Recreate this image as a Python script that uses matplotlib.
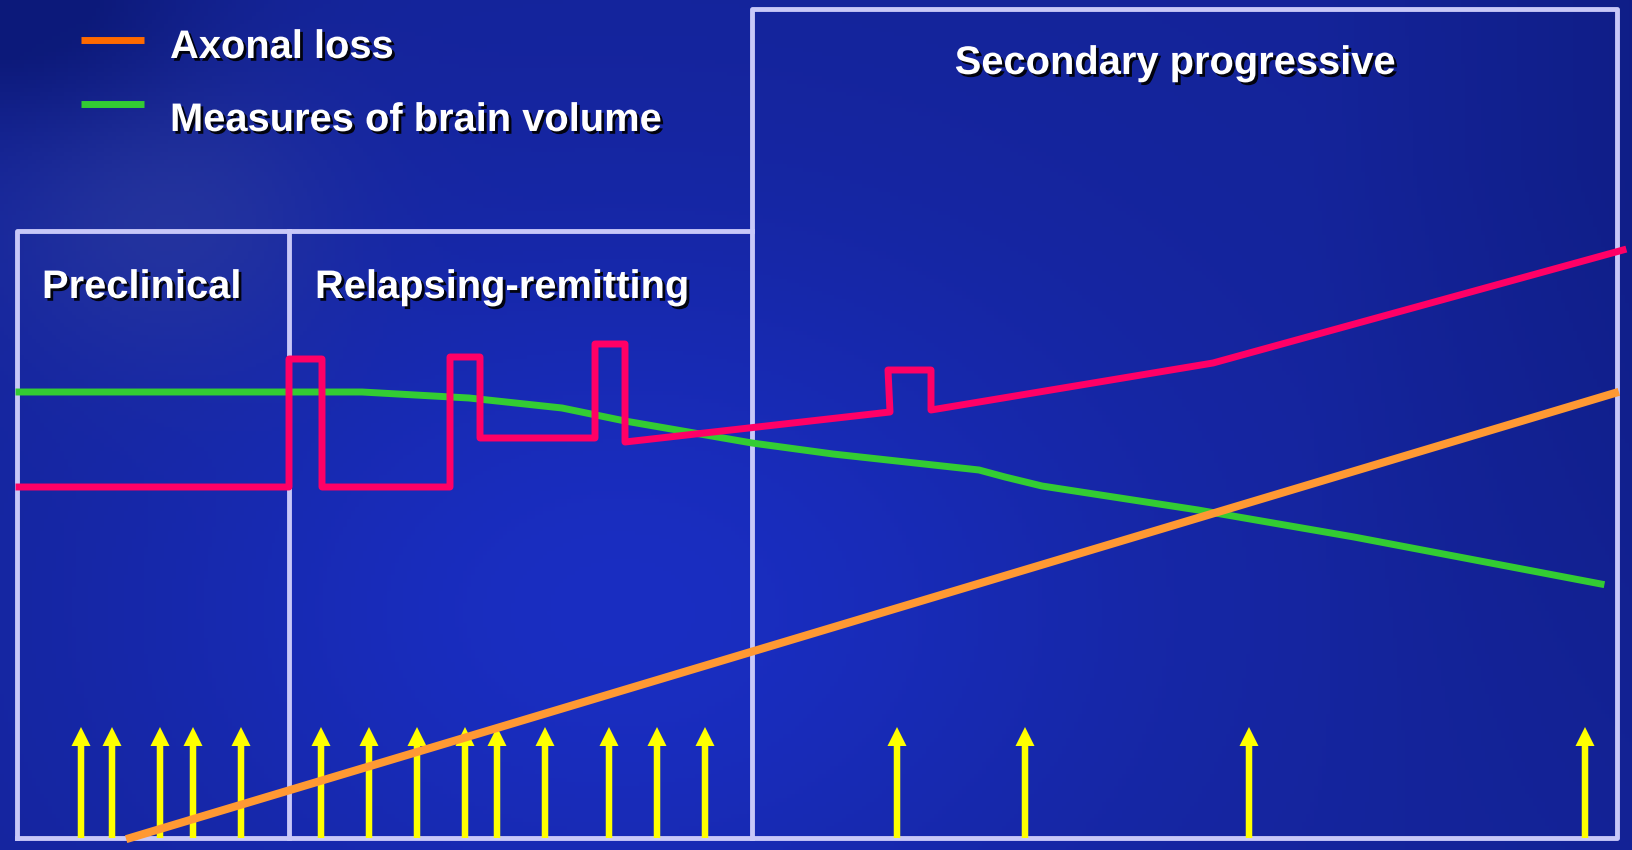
import numpy as np
import matplotlib.pyplot as plt
import matplotlib.patheffects as pe

W, H = 1633, 850

# stage frame (pixel layout of the timeline)
stage_names = ["Preclinical", "Relapsing-remitting", "Secondary progressive"]
frame_left, frame_div, frame_mid, frame_right = 17, 289, 752, 1617
frame_top_low, frame_top_high, frame_bottom = 231, 9, 838

# brain volume curve
green_x = [19, 362, 469, 562, 625, 752, 833, 979, 1005, 1042, 1198, 1354, 1601]
green_y = [392, 392, 398, 408, 421, 443, 454, 470, 477, 486, 510, 537, 584]

# inflammation / relapse curve
pink_x = [19, 289, 289, 322, 322, 450, 450, 480, 480, 595, 595, 625, 625,
          890, 888, 931, 931, 1213, 1623]
pink_y = [487, 487, 359, 359, 487, 487, 357, 357, 438, 438, 344, 344, 442,
          412, 370, 370, 410, 363, 250]

# axonal loss
orange_x = [130, 1615]
orange_y = [838, 393]

# relapse events
arrow_x = [81, 112, 160, 193, 241, 321, 369, 417, 465, 497, 545, 609, 657,
           705, 897, 1025, 1249, 1585]
arrow_tip = 727

legend_labels = ["Axonal loss", "Measures of brain volume"]
legend_colors = ["#FF6A00", "#33CC33"]

fig = plt.figure(figsize=(W / 100, H / 100), dpi=100)
ax = fig.add_axes([0, 0, 1, 1])
ax.set_xlim(0, W)
ax.set_ylim(H, 0)
ax.axis("off")

# slide background: navy corners, hazy top-left, brighter blue middle
yy, xx = np.mgrid[0:H:4, 0:W:4]
u, v = xx / W, yy / H
glow = np.exp(-((u - 0.38) ** 2 / 0.10 + (v - 0.72) ** 2 / 0.20))
haze = np.exp(-((u - 0.10) ** 2 / 0.010 + (v - 0.25) ** 2 / 0.03))
dark = (np.exp(-((u - 0.0) ** 2 / 0.015 + (v - 0.0) ** 2 / 0.02))
        + 0.45 * np.clip((u - 0.8) / 0.2, 0, 1) * np.clip(1.2 - v, 0, 1))
base = np.array([0.08, 0.14, 0.60])
bright = np.array([0.10, 0.18, 0.76])
navy = np.array([0.04, 0.09, 0.45])
grey = np.array([0.18, 0.24, 0.62])
img = base + (bright - base) * glow[..., None]
img = img + (grey - img) * (0.6 * haze)[..., None]
img = img + (navy - img) * np.clip(dark, 0, 0.8)[..., None]
ax.imshow(np.clip(img, 0, 1), extent=[0, W, H, 0], aspect="auto", zorder=0)

fc = "#C8C8F8"
flw = 3.5
ax.plot([frame_left, frame_left, frame_mid], [frame_bottom, frame_top_low, frame_top_low],
        color=fc, lw=flw, zorder=2, solid_joinstyle="round")
ax.plot([frame_div, frame_div], [frame_top_low, frame_bottom], color=fc, lw=flw, zorder=2)
ax.plot([frame_mid, frame_mid, frame_right, frame_right, frame_left],
        [frame_bottom, frame_top_high, frame_top_high, frame_bottom, frame_bottom],
        color=fc, lw=flw, zorder=2, solid_joinstyle="round")

ax.plot(green_x, green_y, color="#33CC33", lw=5, zorder=3)
ax.plot(pink_x, pink_y, color="#FF0066", lw=5, zorder=4, solid_joinstyle="round")

for x in arrow_x:
    ax.arrow(x, frame_bottom, 0, arrow_tip - frame_bottom, width=6.5, head_width=19,
             head_length=19, length_includes_head=True, color="#FFFF00", lw=0, zorder=5)

ax.plot(orange_x, orange_y, color="#FF9933", lw=5.8, zorder=6)

shadow = [pe.withSimplePatchShadow(offset=(2, -2), shadow_rgbFace="black", alpha=0.9)]
tkw = dict(color="white", fontweight="bold", family="Liberation Sans", fontsize=28.7,
           va="center", zorder=7, path_effects=shadow)

for lab, col, y, ty in zip(legend_labels, legend_colors, [40, 104], [47, 120]):
    ax.plot([81, 144], [y, y], color=col, lw=5, solid_capstyle="butt", zorder=7)
    ax.text(170, ty, lab, **tkw)

ax.text(42, 287, stage_names[0], ha="left", **tkw)
ax.text(315, 287, stage_names[1], ha="left", **tkw)
ax.text(1175, 63, stage_names[2], ha="center", **tkw)

fig.savefig("out.png", dpi=100)
